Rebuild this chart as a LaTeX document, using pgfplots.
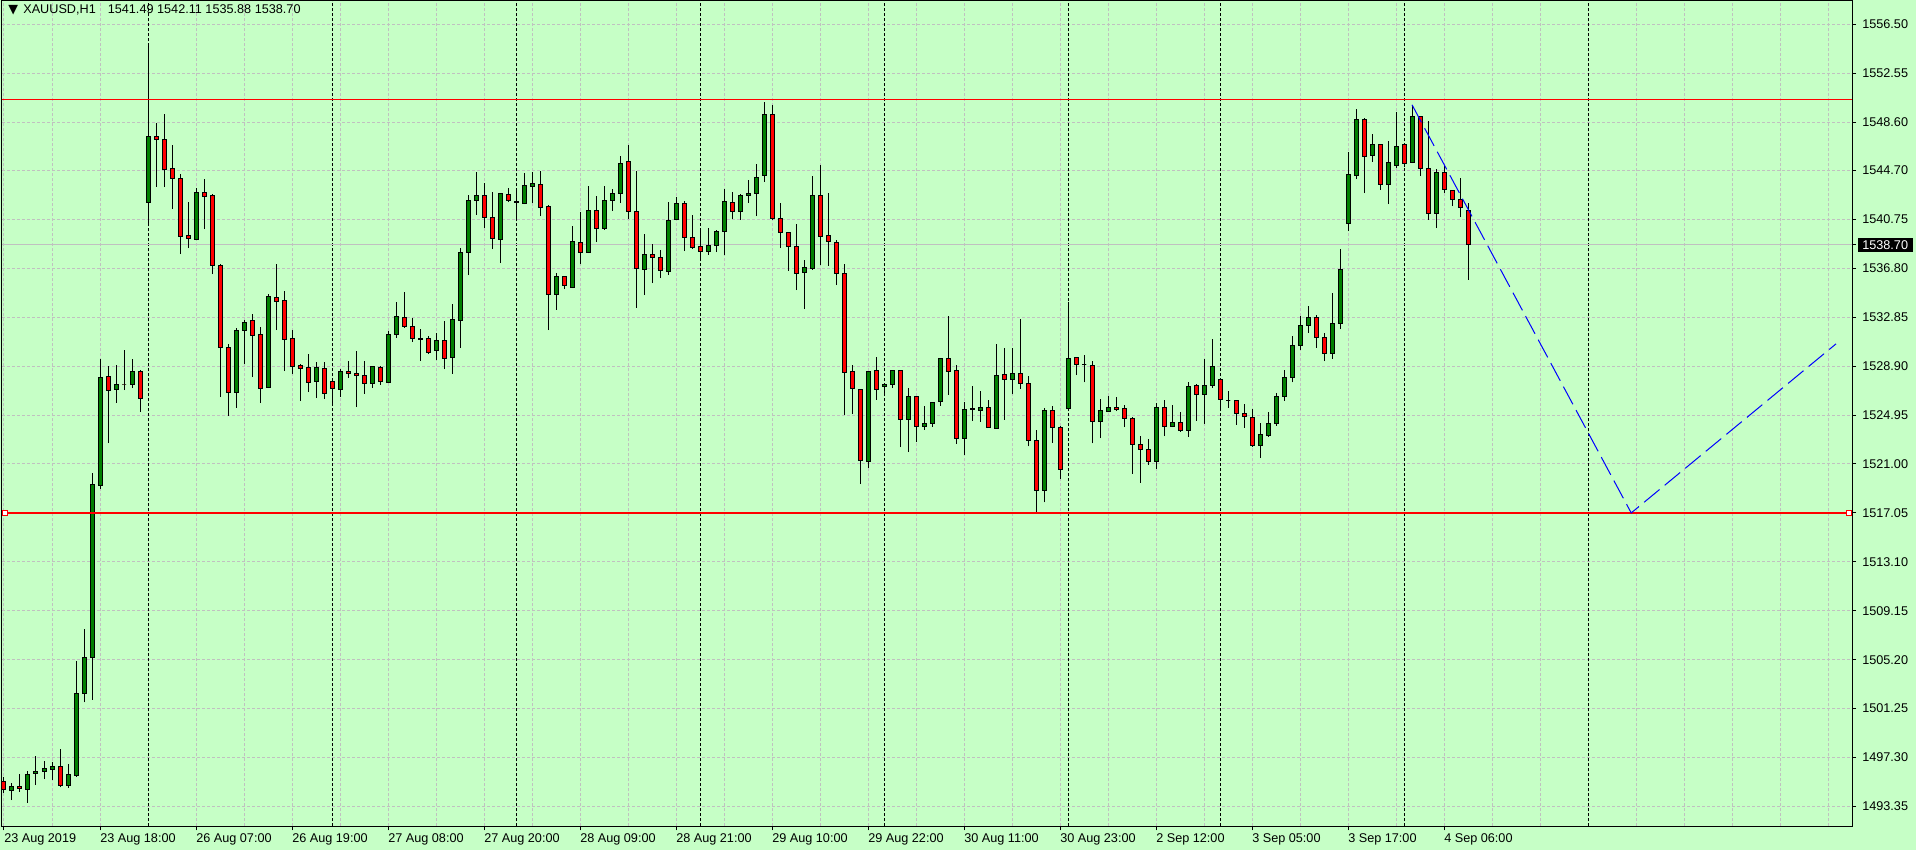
\documentclass[border=0pt]{standalone}
\usepackage{fontspec}
\setmainfont{Liberation Sans}
\newfontfamily\dejavu{DejaVu Sans}
\usepackage{pgfplots}
\usepackage{pgfplotstable}
\pgfplotsset{compat=1.18}
\usetikzlibrary{backgrounds}

\definecolor{bg}{RGB}{198,255,198}
\definecolor{gridc}{RGB}{192,192,192}
\definecolor{bull}{RGB}{0,128,0}
\definecolor{bear}{RGB}{255,0,0}

% XAUUSD H1, 23 Aug 2019 06:00 .. 4 Sep 2019 09:00, bar index n
\pgfplotstableread{
n o h l c
0 1495.39 1495.72 1494.44 1494.69
1 1494.64 1495.22 1493.85 1494.98
2 1494.98 1495.97 1494.52 1494.77
3 1494.69 1496.18 1493.65 1495.89
4 1495.97 1497.42 1495.06 1496.18
5 1496.18 1497.01 1495.56 1496.39
6 1496.34 1496.93 1495.52 1496.55
7 1496.55 1498.00 1494.89 1495.06
8 1495.06 1496.76 1494.85 1495.89
9 1495.85 1505.06 1495.76 1502.45
10 1502.45 1507.71 1501.74 1505.35
11 1505.35 1520.29 1501.95 1519.33
12 1519.25 1529.46 1519.00 1528.00
13 1528.09 1528.88 1522.69 1526.93
14 1527.01 1528.96 1525.93 1527.42
15 1527.38 1530.24 1526.97 1527.38
16 1527.38 1529.46 1527.13 1528.50
17 1528.50 1528.59 1525.22 1526.30
18 1542.15 1555.02 1540.20 1547.42
19 1547.42 1548.54 1543.40 1547.20
20 1547.18 1549.23 1543.36 1544.81
21 1544.84 1546.72 1541.58 1544.03
22 1544.03 1544.43 1537.95 1539.40
23 1539.43 1542.12 1538.43 1539.18
24 1539.10 1543.30 1539.05 1542.90
25 1542.90 1544.03 1539.97 1542.58
26 1542.66 1542.82 1536.33 1537.00
27 1537.00 1537.17 1526.40 1530.38
28 1530.38 1530.70 1524.86 1526.80
29 1526.75 1531.99 1525.53 1531.78
30 1531.75 1532.59 1529.11 1532.40
31 1532.56 1533.13 1528.01 1531.35
32 1531.43 1532.08 1525.91 1527.07
33 1527.15 1534.74 1527.12 1534.50
34 1534.42 1537.11 1531.81 1534.15
35 1534.18 1534.98 1528.50 1531.08
36 1531.11 1531.78 1528.25 1528.90
37 1528.95 1529.09 1526.07 1528.74
38 1528.76 1529.90 1526.80 1527.55
39 1527.63 1529.20 1526.31 1528.76
40 1528.70 1529.24 1526.28 1526.68
41 1527.65 1527.90 1525.90 1527.09
42 1527.01 1528.65 1526.41 1528.46
43 1528.46 1529.29 1527.95 1528.30
44 1528.30 1530.10 1525.60 1528.14
45 1528.14 1529.29 1526.66 1527.49
46 1527.49 1528.94 1527.14 1528.86
47 1528.78 1528.89 1527.41 1527.65
48 1527.57 1531.76 1527.50 1531.44
49 1531.44 1534.10 1531.20 1532.89
50 1532.81 1534.91 1532.00 1532.09
51 1532.09 1532.81 1530.88 1531.12
52 1531.12 1531.93 1529.32 1531.02
53 1531.12 1531.36 1529.88 1530.04
54 1530.15 1531.60 1529.37 1530.96
55 1530.96 1532.57 1528.67 1529.51
56 1529.56 1533.94 1528.27 1532.65
57 1532.62 1538.46 1530.37 1538.05
58 1538.05 1542.73 1536.25 1542.25
59 1542.25 1544.59 1541.12 1542.65
60 1542.66 1543.73 1540.07 1540.88
61 1540.88 1543.00 1538.35 1539.18
62 1539.10 1542.90 1537.22 1542.82
63 1542.74 1543.25 1542.15 1542.25
64 1542.20 1543.25 1540.61 1542.10
65 1542.06 1544.46 1541.98 1543.46
66 1543.38 1544.57 1542.06 1543.63
67 1543.55 1544.65 1541.01 1541.69
68 1541.77 1541.88 1531.81 1534.66
69 1534.66 1536.44 1533.45 1536.12
70 1536.12 1536.15 1535.12 1535.39
71 1535.28 1540.18 1535.20 1538.94
72 1538.86 1541.31 1537.14 1538.11
73 1538.11 1543.46 1538.03 1541.45
74 1541.45 1542.66 1538.92 1539.99
75 1539.99 1543.46 1539.91 1542.25
76 1542.25 1543.22 1541.47 1542.82
77 1542.82 1545.89 1542.06 1545.24
78 1545.40 1546.78 1540.77 1541.36
79 1541.36 1544.70 1533.61 1536.76
80 1536.68 1539.59 1534.64 1537.89
81 1537.89 1538.73 1535.60 1537.65
82 1537.65 1538.30 1536.01 1536.60
83 1536.52 1542.17 1536.25 1540.64
84 1540.72 1542.60 1540.70 1542.01
85 1542.01 1542.25 1538.19 1539.27
86 1539.27 1541.12 1538.35 1538.46
87 1538.54 1539.83 1537.65 1538.13
88 1538.13 1540.07 1537.89 1538.62
89 1538.62 1539.91 1538.11 1539.75
90 1539.75 1543.22 1537.84 1542.17
91 1542.09 1542.98 1540.77 1541.36
92 1541.36 1542.82 1540.72 1542.66
93 1542.66 1543.95 1542.09 1542.82
94 1542.82 1545.19 1541.01 1544.11
95 1544.27 1550.25 1543.79 1549.20
96 1549.20 1550.01 1540.72 1540.80
97 1540.80 1542.09 1538.43 1539.67
98 1539.67 1539.70 1536.60 1538.54
99 1538.54 1540.40 1535.04 1536.36
100 1536.44 1537.49 1533.50 1536.84
101 1536.76 1544.27 1536.68 1542.66
102 1542.66 1545.16 1537.08 1539.35
103 1539.43 1542.90 1537.00 1538.94
104 1538.86 1539.10 1535.44 1536.36
105 1536.36 1537.17 1524.94 1528.36
106 1528.44 1529.01 1525.03 1527.07
107 1526.99 1527.07 1519.37 1521.26
108 1521.18 1528.50 1520.69 1528.44
109 1528.52 1529.66 1526.18 1526.99
110 1527.23 1527.45 1526.59 1527.39
111 1527.39 1528.61 1527.13 1528.52
112 1528.52 1528.60 1522.36 1524.57
113 1524.57 1527.15 1521.96 1526.43
114 1526.43 1526.50 1522.79 1524.00
115 1524.00 1525.70 1523.76 1524.25
116 1524.25 1526.00 1524.00 1525.94
117 1526.02 1529.57 1525.70 1529.49
118 1529.49 1532.97 1526.59 1528.44
119 1528.52 1529.01 1522.63 1523.03
120 1523.08 1525.99 1521.76 1525.42
121 1525.42 1527.28 1524.51 1525.50
122 1525.34 1526.90 1524.40 1525.53
123 1525.58 1526.17 1523.95 1523.97
124 1523.89 1530.70 1523.88 1528.17
125 1528.25 1530.35 1524.59 1527.84
126 1527.84 1530.35 1526.63 1528.33
127 1528.33 1532.72 1527.09 1527.52
128 1527.52 1528.09 1522.43 1522.92
129 1522.92 1523.72 1517.10 1518.88
130 1518.88 1525.50 1517.90 1525.34
131 1525.34 1525.66 1522.73 1523.97
132 1523.97 1524.05 1519.82 1520.58
133 1525.50 1534.06 1525.40 1529.54
134 1529.62 1529.65 1528.17 1529.05
135 1529.05 1529.78 1527.60 1529.05
136 1528.97 1529.30 1522.67 1524.45
137 1524.45 1526.23 1523.08 1525.34
138 1525.26 1526.47 1525.18 1525.58
139 1525.58 1526.39 1525.26 1525.42
140 1525.46 1525.78 1523.98 1524.65
141 1524.65 1524.81 1520.20 1522.55
142 1522.55 1523.28 1519.50 1522.15
143 1522.15 1522.98 1520.93 1521.18
144 1521.18 1525.94 1520.61 1525.54
145 1525.54 1526.18 1523.25 1524.00
146 1524.00 1525.78 1523.98 1524.33
147 1524.33 1525.21 1523.60 1523.68
148 1523.68 1527.64 1523.20 1527.23
149 1527.31 1527.48 1524.49 1526.59
150 1526.59 1529.49 1524.25 1527.31
151 1527.31 1531.11 1527.15 1528.85
152 1527.80 1527.85 1525.54 1526.18
153 1526.16 1526.91 1525.54 1526.16
154 1526.10 1526.15 1524.16 1525.05
155 1525.05 1525.86 1523.92 1524.81
156 1524.73 1525.46 1522.39 1522.47
157 1522.47 1524.33 1521.50 1523.36
158 1523.28 1525.21 1523.20 1524.25
159 1524.25 1526.75 1524.08 1526.43
160 1526.43 1528.60 1526.10 1528.00
161 1528.00 1531.30 1527.60 1530.60
162 1530.60 1532.99 1530.20 1532.16
163 1532.16 1533.77 1531.60 1532.81
164 1532.81 1533.05 1530.40 1531.20
165 1531.20 1531.60 1529.30 1529.90
166 1529.90 1534.82 1529.50 1532.32
167 1532.32 1538.38 1531.90 1536.71
168 1540.40 1546.16 1539.80 1544.35
169 1544.27 1549.68 1544.00 1548.79
170 1548.79 1548.96 1542.87 1545.81
171 1545.89 1547.66 1545.40 1546.78
172 1546.78 1546.80 1543.14 1543.60
173 1543.55 1547.10 1541.98 1545.32
174 1545.08 1549.44 1544.92 1546.61
175 1546.78 1546.80 1545.00 1545.24
176 1545.32 1550.01 1545.30 1549.06
177 1549.06 1549.10 1544.25 1544.84
178 1544.84 1548.71 1540.72 1541.20
179 1541.20 1544.84 1540.05 1544.51
180 1544.51 1545.08 1542.90 1543.14
181 1543.06 1543.10 1541.82 1542.33
182 1542.33 1544.11 1540.93 1541.69
183 1541.49 1542.11 1535.88 1538.70
}\candles

\begin{document}
\begin{tikzpicture}
\begin{axis}[name=ax,
  x=6pt, y=9.2873pt,
  xmin=-0.25, xmax=231, ymin=1491.73, ymax=1558.43,
  axis line style={black, line width=0.75pt},
  tick align=outside,
  xtick pos=left, ytick pos=right,
  yticklabel pos=right,
  xtick={0,12,...,180},
  xticklabels={23 Aug 2019,23 Aug 18:00,26 Aug 07:00,26 Aug 19:00,27 Aug 08:00,27 Aug 20:00,28 Aug 09:00,28 Aug 21:00,29 Aug 10:00,29 Aug 22:00,30 Aug 11:00,30 Aug 23:00,2 Sep 12:00,3 Sep 05:00,3 Sep 17:00,4 Sep 06:00},
  minor xtick={0,6,...,228},
  ytick={1493.35,1497.30,1501.25,1505.20,1509.15,1513.10,1517.05,1521.00,1524.95,1528.90,1532.85,1536.80,1540.75,1544.70,1548.60,1552.55,1556.50},
  yticklabels={1493.35,1497.30,1501.25,1505.20,1509.15,1513.10,1517.05,1521.00,1524.95,1528.90,1532.85,1536.80,1540.75,1544.70,1548.60,1552.55,1556.50},
  xmajorgrids=false, xminorgrids=true, ymajorgrids=true,
  major grid style={gridc, line width=0.75pt, dash pattern=on 2.25pt off 1.5pt},
  minor grid style={gridc, line width=0.75pt, dash pattern=on 2.25pt off 1.5pt},
  major tick length=3pt, minor tick length=0pt,
  tick style={black, line width=0.75pt},
  tick label style={font=\fontsize{9.5}{11}\selectfont, text=black},
  xticklabel style={anchor=north west, inner sep=0pt, yshift=-2pt},
  yticklabel style={anchor=west, inner sep=0pt, xshift=4.5pt},
  extra x ticks={18,41,64,87,110,133,152,175,198},
  extra x tick labels={},
  extra x tick style={xmajorgrids=true, major tick length=0pt,
    major grid style={black, line width=0.75pt, dash pattern=on 2.25pt off 1.5pt}},
  extra y ticks={1538.70},
  extra y tick labels={1538.70},
  extra y tick style={major grid style={gridc, solid, line width=0.75pt},
    yticklabel style={fill=black, text=white, inner xsep=3.4pt, inner ysep=1.9pt, xshift=-3.4pt}},
]
% wicks (error bars from low to high, no point marks)
\addplot[draw=none, mark=none, forget plot,
  error bars/.cd, y dir=plus, y explicit, error mark=none,
  error bar style={draw=black, solid, line width=0.75pt}]
  table[x=n, y=l, y error plus expr={\thisrow{h}-\thisrow{l}}] \candles;
% bodies: invisible base, then bull and bear parts stacked on it
\addplot[ybar, stack plots=y, bar width=0.5, bar shift=0pt, draw=none, fill=none]
  table[x=n, y expr={min(\thisrow{o},\thisrow{c})}] \candles;
\addplot[ybar, stack plots=y, bar width=0.5, bar shift=0pt, draw=black, line width=0.75pt, fill=bull]
  table[x=n, y expr={max(\thisrow{c}-\thisrow{o},0)}] \candles;
\addplot[ybar, stack plots=y, bar width=0.5, bar shift=0pt, draw=black, line width=0.75pt, fill=bear]
  table[x=n, y expr={max(\thisrow{o}-\thisrow{c},0)}] \candles;
% horizontal levels
\addplot[stack plots=false, bear, line width=0.75pt] coordinates {(-0.25,1550.41) (231,1550.41)};
\addplot[stack plots=false, bear, line width=1.5pt, mark=square*, mark size=1.9pt,
  mark options={solid, fill=white, draw=bear, line width=0.75pt}]
  coordinates {(0.125,1517.05) (230.6,1517.05)};
% trend lines
\addplot[stack plots=false, blue, line width=0.75pt, dash pattern=on 15pt off 5pt]
  coordinates {(176,1550.01) (203.4,1517.05) (229,1530.7)};
\end{axis}
\node[anchor=west, inner sep=0pt, font=\fontsize{9.5}{11}\selectfont] at ([xshift=4.5pt,yshift=-6.75pt]ax.north west)
  {{\dejavu ▼}\hspace{4pt}XAUUSD,H1\hspace{9pt}1541.49 1542.11 1535.88 1538.70};
\begin{scope}[on background layer]
\fill[bg] (ax.south west) ++(-1.5pt,-18pt) rectangle ++(1437pt,637.5pt);
\end{scope}
\end{tikzpicture}
\end{document}
